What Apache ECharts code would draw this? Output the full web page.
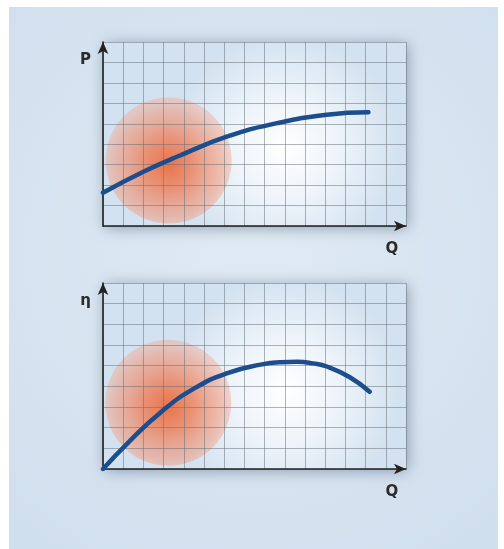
<!DOCTYPE html>
<html>
<head>
<meta charset="utf-8">
<script src="https://cdn.jsdelivr.net/npm/echarts@6/dist/echarts.min.js"></script>
<style>
  html, body { margin: 0; padding: 0; background: #ffffff; }
  #chart { width: 504px; height: 549px; }
</style>
</head>
<body>
<div id="chart"></div>
<script>
// ---- data (grid units) ----
var axisNamesTop = { x: 'Q', y: 'P' };
var axisNamesBottom = { x: 'Q', y: 'η' };
var powerCurve = [[0, 1.63], [2.05, 2.68], [3.69, 3.4], [6.16, 4.38], [8.62, 5.03], [11.08, 5.44], [13.14, 5.56]];
var efficiencyCurve = [[0, 0], [1.25, 1.28], [2.88, 2.76], [4.52, 3.9], [6.16, 4.64], [7.8, 5.05], [8.8, 5.17], [9.6, 5.19], [10.4, 5.11], [11.08, 4.96], [12.2, 4.45], [13.2, 3.74]];
var spotTop = [[3.25, 3.2]];
var spotBottom = [[3.23, 3.2]];
var xMax = 15, yMax = 9;

var chart = echarts.init(document.getElementById('chart'), null, { renderer: 'canvas' });

var panelFill = {
  type: 'radial', x: 0.6, y: 0.58, r: 0.62,
  colorStops: [
    { offset: 0, color: '#ffffff' },
    { offset: 0.45, color: '#eef4fa' },
    { offset: 1, color: '#d3e2f0' }
  ]
};
var spotFill = {
  type: 'radial', x: 0.5, y: 0.53, r: 0.5,
  colorStops: [
    { offset: 0, color: 'rgba(240,88,30,1)' },
    { offset: 0.4, color: 'rgba(242,108,62,0.85)' },
    { offset: 0.85, color: 'rgba(244,142,108,0.62)' },
    { offset: 1, color: 'rgba(245,160,132,0.5)' }
  ]
};

function makeGrid(top, height) {
  return {
    left: 103, top: top, width: 303, height: height,
    show: true, backgroundColor: panelFill, borderWidth: 0,
    shadowBlur: 14, shadowColor: 'rgba(50,70,95,0.45)', shadowOffsetX: 2, shadowOffsetY: 2
  };
}
var axisLineStyle = { color: '#222222', width: 1.6 };
var splitStyle = { color: 'rgba(100,108,118,0.5)', width: 1 };
var nameFont = { fontFamily: 'DejaVu Sans', fontWeight: 'bold', fontSize: 15, color: '#2b2b2b' };

function makeX(idx, name) {
  return {
    type: 'value', gridIndex: idx, min: 0, max: xMax, interval: 1, z: 3,
    name: name, nameLocation: 'end', nameGap: -14,
    nameTextStyle: Object.assign({ align: 'center', verticalAlign: 'top', padding: [16, 0, 0, 0] }, nameFont),
    axisLine: { show: true, onZero: false, lineStyle: axisLineStyle, symbol: ['none', 'arrow'], symbolSize: [8, 12] },
    axisTick: { show: false }, axisLabel: { show: false },
    splitLine: { show: true, lineStyle: splitStyle }
  };
}
function makeY(idx, name) {
  return {
    type: 'value', gridIndex: idx, min: 0, max: yMax, interval: 1, z: 3,
    name: name, nameLocation: 'end', nameGap: -18,
    nameTextStyle: Object.assign({ align: 'right', verticalAlign: 'middle', padding: [0, 12, 0, 0] }, nameFont),
    axisLine: { show: true, onZero: false, lineStyle: axisLineStyle, symbol: ['none', 'arrow'], symbolSize: [8, 12] },
    axisTick: { show: false }, axisLabel: { show: false },
    splitLine: { show: true, lineStyle: splitStyle }
  };
}
function spot(idx, data) {
  return {
    type: 'scatter', xAxisIndex: idx, yAxisIndex: idx, data: data, z: 2,
    symbol: 'circle', symbolSize: 126, silent: true,
    itemStyle: { color: spotFill }
  };
}
function curve(idx, data) {
  return {
    type: 'line', xAxisIndex: idx, yAxisIndex: idx, data: data, z: 5,
    smooth: 0.5, showSymbol: false, silent: true,
    lineStyle: { color: '#1c4d8d', width: 4.5, cap: 'round' }
  };
}

chart.setOption({
  backgroundColor: 'transparent',
  animation: false,
  graphic: [{
    type: 'rect', z: -100, silent: true,
    shape: { x: 9, y: 7, width: 489, height: 542 },
    style: {
      fill: {
        type: 'radial', x: 0.5, y: 0.45, r: 0.75,
        colorStops: [{ offset: 0, color: '#e0eaf4' }, { offset: 1, color: '#d0dfee' }]
      }
    }
  }],
  grid: [makeGrid(42, 184), makeGrid(283, 186)],
  xAxis: [makeX(0, axisNamesTop.x), makeX(1, axisNamesBottom.x)],
  yAxis: [makeY(0, axisNamesTop.y), makeY(1, axisNamesBottom.y)],
  series: [spot(0, spotTop), curve(0, powerCurve), spot(1, spotBottom), curve(1, efficiencyCurve)]
});
</script>
</body>
</html>
